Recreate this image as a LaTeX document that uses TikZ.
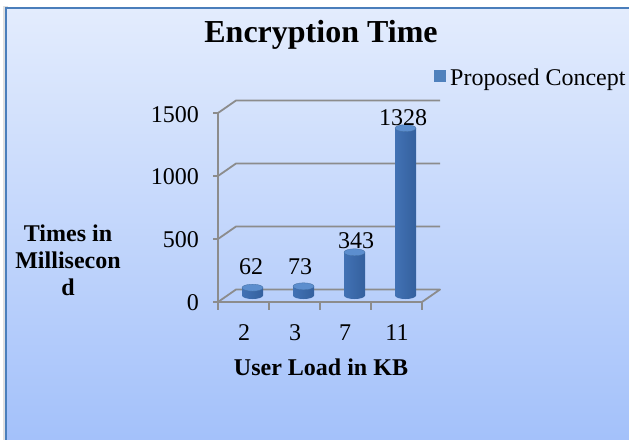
\documentclass[tikz,border=0pt]{standalone}
\usepackage{fontspec}
\setmainfont{Liberation Serif}
\definecolor{bgtop}{HTML}{E3ECFD}
\definecolor{bgbot}{HTML}{A2C0FA}
\definecolor{frame}{HTML}{4A7EBB}
\definecolor{gridgray}{HTML}{8C8C8C}
\definecolor{barleft}{HTML}{4272B4}
\definecolor{barright}{HTML}{34609E}
\definecolor{barmid}{HTML}{4F81BD}
\definecolor{barlight}{HTML}{76A5E0}
\definecolor{bartop}{HTML}{5C8ECE}
\begin{document}
\begin{tikzpicture}[x=1pt,y=-1pt,
  gridline/.style={draw=gridgray,line width=1.8pt,line join=round},
  lbl/.style={font=\fontsize{24}{27}\selectfont,inner sep=0pt},
  blbl/.style={font=\fontsize{24}{27}\selectfont\bfseries,inner sep=0pt},
  barbody/.style={left color=barleft,middle color=barlight,right color=barright,draw=none},
  bartopstyle/.style={fill=bartop,draw=barmid!85!black,line width=0.3pt}]
\useasboundingbox (0,0) rectangle (629,439);
\fill[white] (0,0) rectangle (629,439);
\fill[black!12] (3,6) rectangle (8,445);
\shade[top color=bgtop,bottom color=bgbot] (6,8) rectangle (640,450);
\draw[frame,line width=2pt] (6,450) -- (6,8) -- (640,8);
% title
\node[font=\fontsize{32}{36}\selectfont\bfseries,inner sep=0pt,anchor=base] (title) at (321,42) {Encryption Time};
% legend
\fill[barmid] (434,70) rectangle (445.5,82);
\node[lbl,anchor=base west] (legend) at (450,85) {Proposed Concept};
% back wall gridlines and side wall
\foreach \yf in {113,176,239} {
  \draw[gridline] (213,\yf) -- (218,\yf) -- (236,\yf-12.5) -- (440,\yf-12.5);
}
% floor
\draw[gridline] (213,302) -- (218,302) -- (236,289.5) -- (440,289.5) -- (422,302) -- (218,302);
% x ticks
\foreach \xx in {269,320,371,422} { \draw[gridline] (\xx,302) -- (\xx,310); }
% front vertical axis
\draw[gridline] (218,113) -- (218,310);
% bars
\foreach \cx/\v in {252.5/62,303.5/73,354.5/343,405.5/1328} {
  \pgfmathsetmacro{\ty}{295.5-0.126*\v}
  \path[barbody] (\cx-10.5,\ty) -- (\cx-10.5,295.5)
     arc[start angle=180,end angle=0,x radius=10.5,y radius=3.5]
     -- (\cx+10.5,\ty) -- cycle;
  \path[bartopstyle] (\cx,\ty) ellipse[x radius=10.5,y radius=3.5];
}
% value labels
\node[lbl] (v1) at (251,266.7) {62};
\node[lbl] (v2) at (300,266.7) {73};
\node[lbl] (v3) at (356,241) {343};
\node[lbl] (v4) at (403,117.5) {1328};
% y tick labels
\node[lbl,anchor=east] (y1500) at (199,115) {1500};
\node[lbl,anchor=east] (y1000) at (199,177) {1000};
\node[lbl,anchor=east] (y500) at (199,240) {500};
\node[lbl,anchor=east] (y0) at (199,303) {0};
% x tick labels
\node[lbl] (x2) at (244,332.5) {2};
\node[lbl] (x3) at (295,332.5) {3};
\node[lbl] (x7) at (345,332.5) {7};
\node[lbl] (x11) at (397,332.5) {11};
% axis titles
\node[blbl,anchor=base] (xtitle) at (321,375) {User Load in KB};
\node[blbl,align=center,anchor=base] (ytitle) at (68,295) {Times in\\Millisecon\\d};
\end{tikzpicture}
\end{document}
